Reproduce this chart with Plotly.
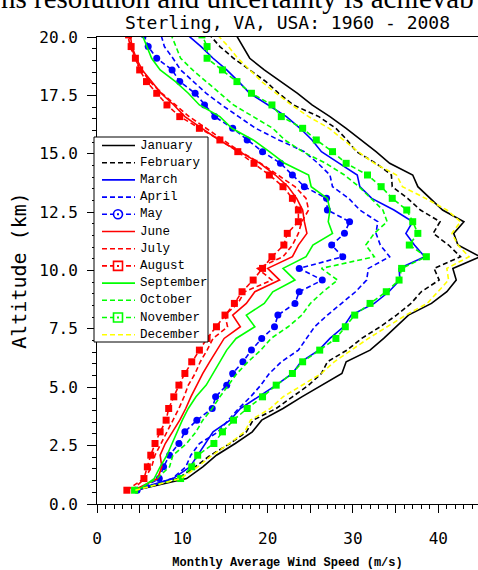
import plotly.graph_objects as go

ALT = [0.59, 1.09, 1.59, 2.09, 2.59, 3.09, 3.59, 4.09, 4.59, 5.09,
       5.59, 6.09, 6.59, 7.09, 7.59, 8.09, 8.59, 9.09, 9.59, 10.09,
       10.59, 11.09, 11.59, 12.09, 12.59, 13.09, 13.59, 14.09, 14.59, 15.09,
       15.59, 16.09, 16.59, 17.09, 17.59, 18.09, 18.59, 19.09, 19.59, 20.09]

JAN = [4.5, 10.5, 12.4, 14.0, 16.2, 18.2, 19.3, 21.8, 24.0, 26.3,
       28.7, 29.2, 32.0, 33.6, 35.1, 36.5, 39.2, 41.0, 42.1, 41.7,
       44.9, 42.3, 41.8, 43.0, 40.5, 39.0, 37.6, 37.0, 34.3, 32.7,
       31.0, 29.2, 27.3, 25.2, 23.5, 21.5, 19.6, 17.9, 17.1, 16.3]
FEB = [4.3, 9.5, 11.5, 13.3, 15.6, 17.5, 18.3, 21.0, 22.9, 24.8,
       26.3, 27.0, 29.3, 31.0, 33.2, 35.1, 36.8, 38.0, 40.1, 39.5,
       42.6, 41.2, 39.4, 40.2, 37.9, 36.4, 34.6, 34.5, 32.7, 30.4,
       29.3, 28.0, 26.0, 23.0, 21.3, 19.8, 17.9, 16.0, 14.4, 13.2]
MAR = [4.3, 8.9, 10.9, 11.8, 12.7, 13.6, 15.6, 16.8, 18.9, 21.0,
       22.9, 23.9, 26.0, 27.3, 28.9, 29.8, 32.5, 34.2, 35.5, 35.4,
       38.4, 37.2, 36.2, 37.0, 34.8, 32.2, 30.8, 30.5, 28.4, 26.3,
       25.2, 23.8, 22.2, 20.0, 17.9, 16.6, 15.2, 13.6, 12.2, 10.6]
APR = [4.8, 8.8, 10.4, 11.0, 12.0, 14.2, 15.4, 16.6, 18.0, 19.2,
       20.2, 21.6, 23.6, 24.5, 25.5, 27.0, 28.7, 30.3, 31.6, 31.8,
       34.3, 33.2, 32.7, 32.9, 30.8, 29.5, 27.6, 27.3, 25.9, 24.3,
       21.3, 18.6, 16.6, 14.6, 12.8, 11.3, 9.8, 8.9, 7.9, 7.5]
MAY = [4.7, 7.3, 7.8, 8.5, 9.6, 10.3, 11.7, 13.5, 13.9, 15.2,
       15.9, 17.1, 18.1, 19.3, 20.8, 21.2, 23.2, 23.7, 26.4, 23.7,
       28.8, 27.5, 29.0, 29.6, 27.0, 26.9, 24.3, 22.9, 21.5, 19.4,
       17.6, 15.9, 13.8, 12.6, 11.5, 9.7, 8.8, 7.0, 6.0, 5.5]
JUN = [4.3, 7.1, 7.6, 7.4, 8.0, 8.9, 9.7, 10.4, 11.0, 11.7,
       12.4, 13.2, 14.0, 14.9, 16.8, 15.9, 17.5, 18.5, 21.4, 20.0,
       22.9, 23.6, 24.6, 24.3, 24.1, 23.4, 22.4, 20.9, 19.1, 16.7,
       14.3, 12.3, 10.3, 9.0, 7.5, 6.4, 5.3, 4.6, 4.1, 3.9]
JUL = [4.1, 5.6, 6.4, 6.8, 7.5, 8.2, 8.9, 9.6, 10.2, 10.7,
       11.5, 12.1, 12.9, 13.6, 15.3, 15.0, 16.5, 17.3, 20.5, 18.8,
       21.8, 22.9, 23.6, 24.0, 24.8, 24.5, 23.2, 21.2, 19.2, 16.8,
       14.8, 12.8, 10.8, 9.2, 7.6, 6.2, 5.2, 4.4, 3.9, 3.6]
AUG = [3.5, 5.5, 5.9, 6.3, 6.8, 7.4, 8.1, 8.4, 9.0, 9.6,
       10.3, 11.1, 12.0, 12.9, 14.0, 15.0, 16.1, 17.0, 18.3, 19.4,
       20.5, 21.9, 22.3, 23.6, 23.6, 22.9, 21.8, 20.2, 18.4, 16.5,
       14.4, 12.0, 9.7, 8.2, 7.0, 5.8, 5.0, 4.5, 4.0, 3.7]
SEP = [4.8, 6.7, 7.4, 8.2, 8.8, 9.4, 10.0, 10.7, 11.6, 12.8,
       13.6, 14.3, 15.2, 16.3, 18.5, 17.5, 19.6, 20.6, 23.2, 21.8,
       24.5, 25.3, 27.6, 27.1, 27.3, 27.0, 25.1, 24.8, 22.0, 20.2,
       18.3, 15.8, 14.4, 12.0, 10.7, 9.2, 7.4, 6.4, 5.8, 5.3]
OCT = [4.6, 7.0, 8.5, 8.9, 10.5, 11.6, 12.4, 13.5, 14.4, 15.4,
       16.4, 17.7, 19.2, 20.4, 22.4, 24.0, 25.0, 26.5, 28.2, 26.3,
       32.5, 31.5, 32.5, 34.0, 33.5, 32.1, 30.7, 29.0, 26.8, 24.1,
       22.0, 20.6, 18.3, 16.0, 14.4, 12.8, 11.2, 9.8, 9.2, 8.7]
NOV = [4.4, 9.8, 11.1, 11.8, 13.7, 14.7, 16.0, 17.6, 19.4, 21.0,
       22.9, 24.1, 26.1, 28.0, 29.1, 30.2, 32.0, 33.9, 35.4, 35.7,
       38.6, 36.6, 37.6, 37.0, 36.3, 34.6, 33.3, 31.7, 29.2, 27.6,
       25.7, 24.1, 21.6, 20.5, 18.1, 16.4, 14.7, 12.9, 12.9, 12.3]
DEC = [4.5, 9.8, 11.8, 13.5, 15.5, 17.3, 18.0, 20.3, 21.8, 24.0,
       26.3, 27.8, 29.8, 31.8, 34.0, 36.2, 38.7, 40.0, 41.2, 41.0,
       43.6, 42.3, 41.6, 42.6, 41.0, 38.5, 35.8, 35.1, 32.5, 30.6,
       28.9, 27.2, 24.8, 22.8, 21.0, 19.3, 17.9, 16.5, 15.4, 14.1]

MONTHS = ["January", "February", "March", "April", "May", "June", "July",
          "August", "September", "October", "November", "December"]
SERIES = [JAN, FEB, MAR, APR, MAY, JUN, JUL, AUG, SEP, OCT, NOV, DEC]
COLORS = ["#000000", "#000000", "#0000ff", "#0000ff", "#0000ff", "#ff0000",
          "#ff0000", "#ff0000", "#00ff00", "#00ff00", "#00ff00", "#ffff00"]
DASHES = ["solid", "5px,3px", "solid", "5px,3px", "5px,3px", "solid",
          "5px,3px", "5px,3px", "solid", "5px,3px", "5px,3px", "5px,3px"]
MARKERS = [None, None, None, None, "circle", None, None, "square",
           None, None, "square", None]

W, H = 478, 570
ML, MR, MT, MB = 97, 0, 37, 66
PW, PH = W - ML - MR, H - MT - MB


def px(x):
    return (x - ML) / PW


def py(y):
    return (H - MB - y) / PH


fig = go.Figure()
for name, vals, col, dash, mk in zip(MONTHS, SERIES, COLORS, DASHES, MARKERS):
    kw = dict(mode="lines")
    if mk:
        kw = dict(mode="lines+markers",
                  marker=dict(symbol=mk, size=7, color=col))
    fig.add_trace(go.Scatter(x=vals, y=ALT, name=name, showlegend=False,
                             line=dict(color=col, width=1.6, dash=dash), **kw))

# legend key
shapes = [dict(type="rect", xref="paper", yref="paper",
               x0=px(94), x1=px(208), y0=py(342), y1=py(137),
               fillcolor="white", line=dict(color="black", width=1))]
annots = []
LEG_FONT = "Liberation Mono"
for i, (name, col, dash, mk) in enumerate(zip(MONTHS, COLORS, DASHES, MARKERS)):
    yc = 145.5 + 17.2 * i
    shapes.append(dict(type="line", xref="paper", yref="paper",
                       x0=px(102), x1=px(135), y0=py(yc), y1=py(yc),
                       line=dict(color=col, width=1.6, dash=dash)))
    if mk:
        shapes.append(dict(type="rect" if mk == "square" else "circle",
                           xref="paper", yref="paper",
                           x0=px(113.5), x1=px(122.5),
                           y0=py(yc + 4.5), y1=py(yc - 4.5),
                           fillcolor="white", line=dict(color=col, width=1.6)))
        shapes.append(dict(type="rect", xref="paper", yref="paper",
                           x0=px(117), x1=px(119),
                           y0=py(yc + 1), y1=py(yc - 1),
                           fillcolor=col, line=dict(color=col, width=0)))
    annots.append(dict(text=name, xref="paper", yref="paper",
                       x=px(138), y=py(yc), xanchor="left", yanchor="middle",
                       showarrow=False,
                       font=dict(family=LEG_FONT, size=12.5, color="black")))

annots.append(dict(text="ns resolution and uncertainty is achievab",
                   xref="paper", yref="paper", x=px(-1), y=1.045,
                   xanchor="left", yanchor="bottom", showarrow=False,
                   font=dict(family="Liberation Serif", size=29,
                             color="black")))

MONO = "DejaVu Sans Mono"
fig.update_layout(
    width=W, height=H,
    margin=dict(l=ML, r=MR, t=MT, b=MB),
    paper_bgcolor="white", plot_bgcolor="white",
    showlegend=False,
    title=dict(text="Sterling, VA, USA: 1960 - 2008", x=0.5, xref="paper",
               y=1 - 22.5 / H, yanchor="middle",
               font=dict(family=MONO, size=18, color="black")),
    shapes=shapes,
    annotations=annots,
)
fig.update_xaxes(
    range=[0, 44.65], showgrid=False, zeroline=False,
    showline=True, linecolor="black", linewidth=1, mirror=True,
    ticks="outside", ticklen=8, tickcolor="black",
    tickvals=[0, 5, 10, 15, 20, 25, 30, 35, 40],
    ticktext=["0", "", "10", "", "20", "", "30", "", "40"],
    ticklabelstandoff=12,
    tickfont=dict(family=MONO, size=16, color="black"),
    minor=dict(dtick=1, ticks="outside", ticklen=4, tickcolor="black"),
    title=dict(text="<b>Monthly Average Wind Speed (m/s)</b>", standoff=12,
               font=dict(family="Liberation Mono", size=12, color="black")),
)
fig.update_yaxes(
    range=[0, 20], showgrid=False, zeroline=False,
    showline=True, linecolor="black", linewidth=1,
    ticks="outside", ticklen=9, tickcolor="black",
    tick0=0, dtick=2.5, tickformat=".1f",
    ticklabelstandoff=6,
    tickfont=dict(family=MONO, size=16, color="black"),
    minor=dict(dtick=0.5, ticks="outside", ticklen=4, tickcolor="black"),
    title=dict(text="Altitude (km)", standoff=7,
               font=dict(family=MONO, size=20, color="black")),
)

fig.write_html("out.html")
